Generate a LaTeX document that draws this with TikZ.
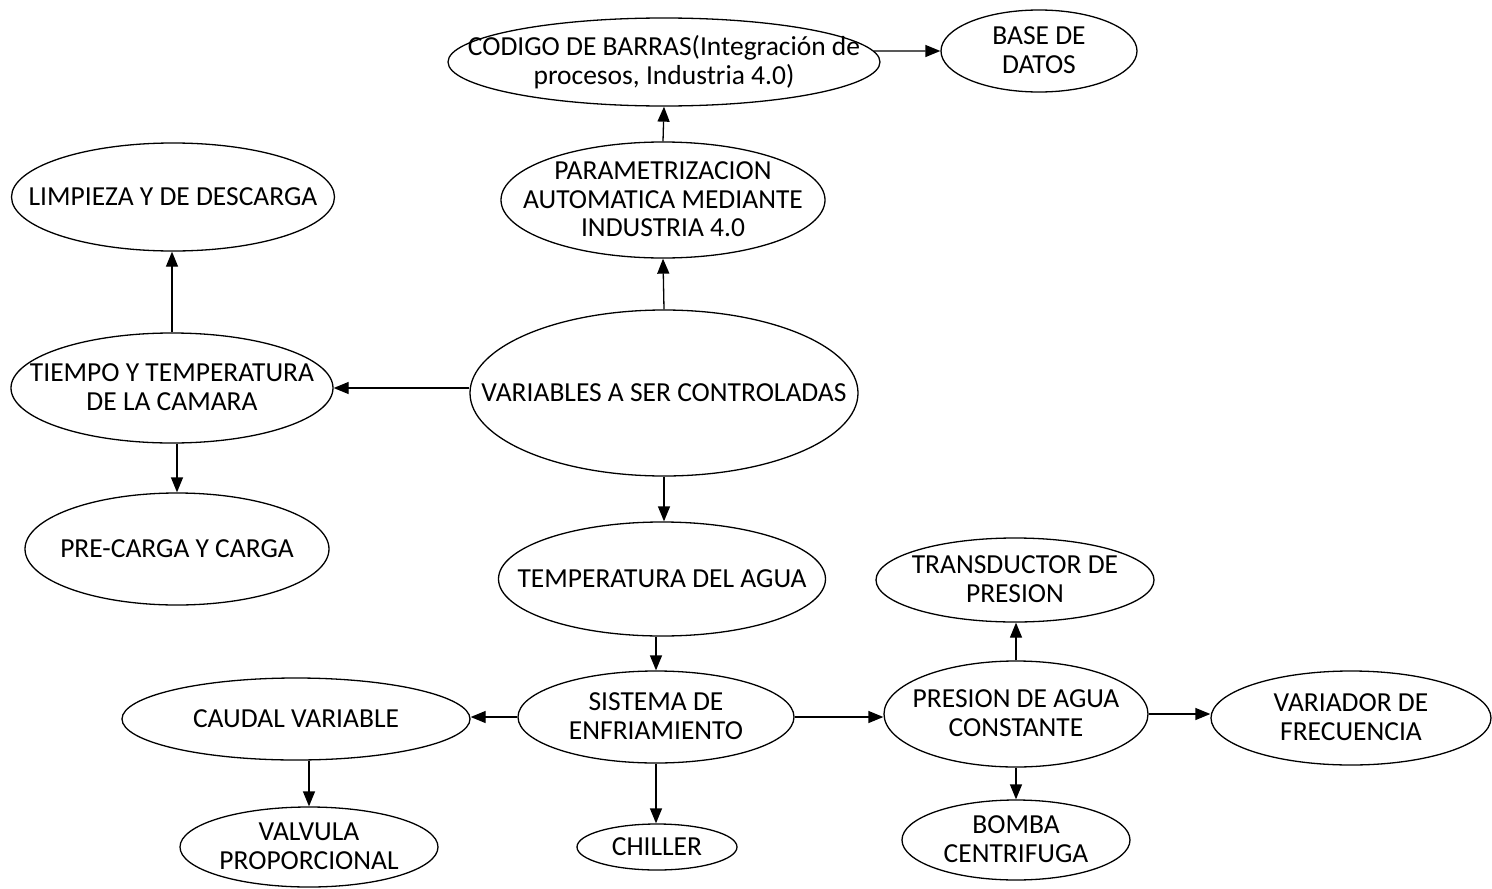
\documentclass[tikz,border=0pt]{standalone}
\usepackage{fontspec}
\setmainfont{Carlito}
\usetikzlibrary{shapes.geometric,arrows.meta}
% centred label that does not enlarge the ellipse around it
\newcommand\ovaltext[1]{\makebox[0pt]{\raisebox{\dimexpr-0.5em-3.5pt\relax}{\smash{\begin{tabular}{@{}c@{}}#1\end{tabular}}}}}
\tikzset{
  oval/.style={ellipse, draw=black, line width=1.3pt, inner sep=0pt,
    font=\fontsize{27.5}{28.5}\selectfont},
  arr/.style={line width=1.3pt, -{Triangle[length=15pt,width=12pt]}}
}
\begin{document}
\begin{tikzpicture}[x=1pt,y=-1pt]
\useasboundingbox (0,0) rectangle (1492,889);
% upper branch
\node[oval, minimum width=432pt, minimum height=88pt] (codigo) at (664,62) {\ovaltext{CODIGO DE BARRAS(Integración de\\procesos, Industria 4.0)}};
\node[oval, minimum width=196pt, minimum height=82pt] (base) at (1039,51) {\ovaltext{BASE DE\\DATOS}};
\node[oval, minimum width=324pt, minimum height=116pt] (param) at (663,200) {\ovaltext{PARAMETRIZACION\\AUTOMATICA MEDIANTE\\INDUSTRIA 4.0}};
% left branch
\node[oval, minimum width=323pt, minimum height=108pt] (limpieza) at (173,197) {\ovaltext{LIMPIEZA Y DE DESCARGA}};
\node[oval, minimum width=322pt, minimum height=110pt] (tiempo) at (172,388) {\ovaltext{TIEMPO Y TEMPERATURA\\DE LA CAMARA}};
\node[oval, minimum width=304pt, minimum height=112pt] (precarga) at (177,549) {\ovaltext{PRE-CARGA Y CARGA}};
% centre column
\node[oval, minimum width=388pt, minimum height=166pt] (variables) at (664,393) {\ovaltext{VARIABLES A SER CONTROLADAS}};
\node[oval, minimum width=327pt, minimum height=114pt] (temp) at (662,579) {\ovaltext{TEMPERATURA DEL AGUA}};
\node[oval, minimum width=276pt, minimum height=92pt] (sistema) at (656,717) {\ovaltext{SISTEMA DE\\ENFRIAMIENTO}};
\node[oval, minimum width=160pt, minimum height=46pt] (chiller) at (657,847) {\ovaltext{CHILLER}};
\node[oval, minimum width=348pt, minimum height=82pt] (caudal) at (296,719) {\ovaltext{CAUDAL VARIABLE}};
\node[oval, minimum width=258pt, minimum height=80pt] (valvula) at (309,847) {\ovaltext{VALVULA\\PROPORCIONAL}};
% right branch
\node[oval, minimum width=278pt, minimum height=84pt] (trans) at (1015,580) {\ovaltext{TRANSDUCTOR DE\\PRESION}};
\node[oval, minimum width=264pt, minimum height=106pt] (presion) at (1016,714) {\ovaltext{PRESION DE AGUA\\CONSTANTE}};
\node[oval, minimum width=280pt, minimum height=94pt] (variador) at (1351,718) {\ovaltext{VARIADOR DE\\FRECUENCIA}};
\node[oval, minimum width=228pt, minimum height=80pt] (bomba) at (1016,840) {\ovaltext{BOMBA\\CENTRIFUGA}};
% connectors
\draw[arr] (codigo.3.3) -- (base.west);
\draw[arr] (param.north) -- (codigo.south);
\draw[arr] (variables.north) -- (param.south);
\draw[arr] (tiempo.east -| variables.west) -- (tiempo.east);
\draw[arr] (tiempo.north) -- (tiempo.north |- limpieza.south);
\draw[arr] (precarga.north |- tiempo.south) -- (precarga.north);
\draw[arr] (variables.south) -- (variables.south |- temp.north);
\draw[arr] (sistema.north |- temp.south) -- (sistema.north);
\draw[arr] (sistema.west) -- (sistema.west -| caudal.east);
\draw[arr] (sistema.south) -- (sistema.south |- chiller.north);
\draw[arr] (valvula.north |- caudal.south) -- (valvula.north);
\draw[arr] (sistema.east) -- (sistema.east -| presion.west);
\draw[arr] (presion.north) -- (presion.north |- trans.south);
\draw[arr] (presion.south) -- (presion.south |- bomba.north);
\draw[arr] (presion.east) -- (presion.east -| variador.west);
\end{tikzpicture}
\end{document}
